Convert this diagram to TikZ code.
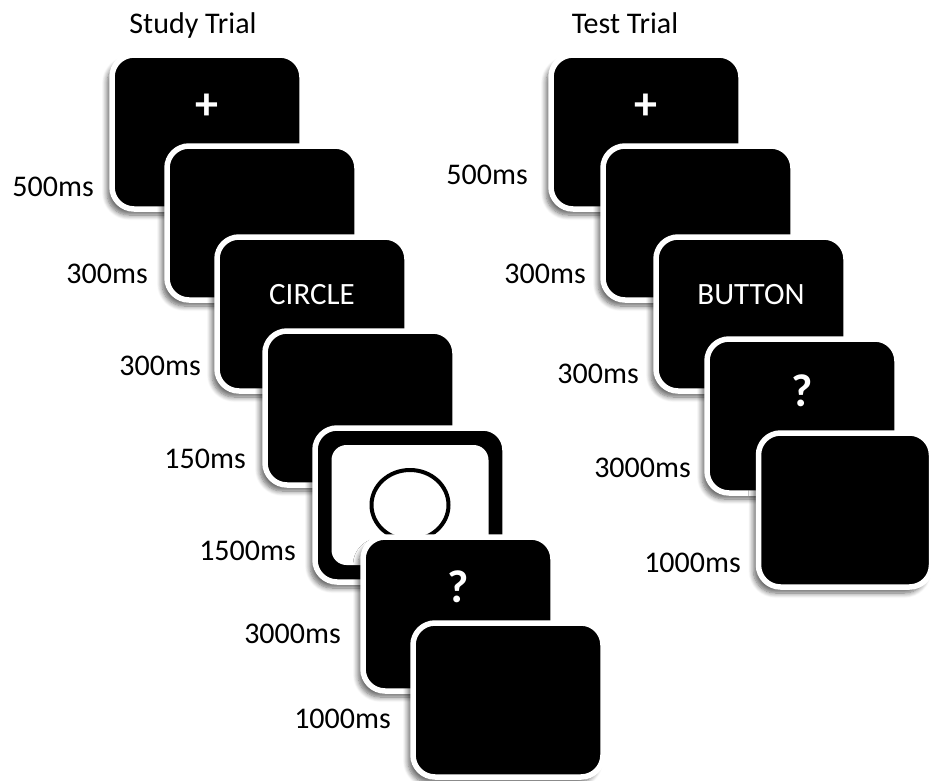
\documentclass[tikz,border=0pt]{standalone}
\usepackage{fontspec}
\setmainfont{Carlito}
\usepackage{tikz}
\usetikzlibrary{positioning, shapes.geometric, shadows.blur}

\begin{document}
\begin{tikzpicture}[x=1pt, y=-1pt,
                    every node/.style={align=center, font=\fontsize{30}{36}\selectfont},
                    card/.style={draw=white, line width=5.5pt, fill=black, rounded corners=22pt, minimum width=190pt, minimum height=154pt, inner sep=0pt,
                                 blur shadow={shadow xshift=-5pt, shadow yshift=-6pt, shadow blur steps=8, shadow blur radius=5pt, shadow opacity=60}},
                    screen/.style={fill=white, rounded corners=15pt, minimum width=157pt, minimum height=120pt, inner sep=0pt},
                    ring/.style={ellipse, draw=black, fill=white, line width=4pt, minimum width=77pt, minimum height=70pt, inner sep=0pt},
                    sym/.style={text=white, font=\fontsize{46}{46}\selectfont\bfseries},
                    word/.style={text=white, font=\fontsize{31}{31}\selectfont},
                    time/.style={anchor=base east, inner sep=0pt},
                    title/.style={anchor=base, inner sep=0pt}
                ]

                    \useasboundingbox (0,0) rectangle (935,780);

                    % Titles
                    \node (study) [title] at (193,33) {Study Trial};
                    \node (test) [title] at (625,33) {Test Trial};

                    % Study trial cards
                    \node (s1) [card] at (207,132) {};
                    \node (s1txt) [sym] at ([yshift=25pt]s1.center) {+};
                    \node (s2) [card] at (262,223) {};
                    \node (s3) [card] at (312,314) {};
                    \node (s3txt) [word] at ([yshift=19pt]s3.center) {CIRCLE};
                    \node (s4) [card] at (360,408) {};
                    \node (s5) [card] at (410,505) {};
                    \node (s5scr) [screen] at (s5.center) {};
                    \node (s5ring) [ring] at (s5.center) {};
                    \node (s6) [card] at (458,614) {};
                    \node (s6txt) [sym] at ([yshift=27pt]s6.center) {?};
                    \node (s7) [card] at (508,700) {};

                    % Study trial durations
                    \node (s1time) [time] at (94,196) {500ms};
                    \node (s2time) [time] at (148,283) {300ms};
                    \node (s3time) [time] at (201,375) {300ms};
                    \node (s4time) [time] at (246,468) {150ms};
                    \node (s5time) [time] at (296,560) {1500ms};
                    \node (s6time) [time] at (341,643) {3000ms};
                    \node (s7time) [time] at (391,728) {1000ms};

                    % Test trial cards
                    \node (t1) [card] at (646,132) {};
                    \node (t1txt) [sym] at ([yshift=25pt]t1.center) {+};
                    \node (t2) [card] at (698,223) {};
                    \node (t3) [card] at (751,314) {};
                    \node (t3txt) [word] at ([yshift=19pt]t3.center) {BUTTON};
                    \node (t4) [card] at (802,416) {};
                    \node (t4txt) [sym] at ([yshift=25pt]t4.center) {?};
                    \node (t5) [card, minimum width=173pt] at (845,510) {};

                    % Test trial durations
                    \node (t1time) [time] at (528,184) {500ms};
                    \node (t2time) [time] at (586,283) {300ms};
                    \node (t3time) [time] at (639,383) {300ms};
                    \node (t4time) [time] at (691,477) {3000ms};
                    \node (t5time) [time] at (741,572) {1000ms};

                \end{tikzpicture}
\end{document}
